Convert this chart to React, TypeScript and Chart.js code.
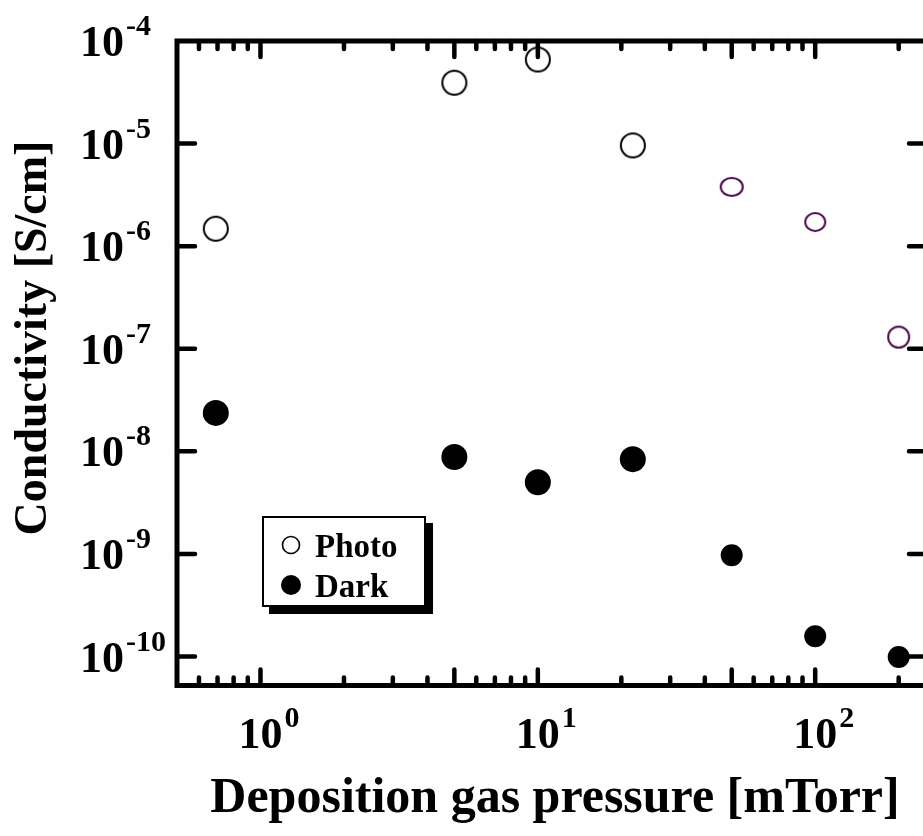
import React, { useEffect, useRef } from "react";
import { Chart, registerables } from "chart.js";

Chart.register(...registerables);

// ---- data ----
const pressure = [0.69, 5, 10, 22, 50, 100, 200];
const photo = [1.48e-6, 3.92e-5, 6.6e-5, 9.6e-6, 3.78e-6, 1.72e-6, 1.3e-7];
const dark = [2.37e-8, 8.8e-9, 5.0e-9, 8.4e-9, 9.7e-10, 1.58e-10, 9.9e-11];
const seriesNames = ["Photo", "Dark"];
const yExponents = [-4, -5, -6, -7, -8, -9, -10];
const xExponents = [0, 1, 2];
const xTitle = "Deposition gas pressure [mTorr]";
const yTitle = "Conductivity [S/cm]";

// ---- styles ----
const photoColors = ["#000000", "#000000", "#000000", "#000000", "#4b0b4b", "#4b0b4b", "#4b0b4b"];
const photoRx = [12, 12, 12, 12, 11, 10, 10.5];
const photoRy = [12, 12, 12, 12, 9, 9, 10.5];
const darkRadius = [13, 13, 13, 13, 11, 11, 11];
const FONT = '"Liberation Serif", "Times New Roman", serif';

function ellipseMarker(rx: number, ry: number, color: string) {
  const c = document.createElement("canvas");
  const w = Math.ceil(rx * 2 + 6);
  const h = Math.ceil(ry * 2 + 6);
  c.width = w;
  c.height = h;
  const g = c.getContext("2d")!;
  g.strokeStyle = color;
  g.lineWidth = 2;
  g.beginPath();
  g.ellipse(w / 2, h / 2, rx, ry, 0, 0, Math.PI * 2);
  g.stroke();
  return c;
}

const framePlugin = {
  id: "frame",
  beforeDatasetsDraw(chart: any) {
    const { ctx, chartArea: a, scales } = chart;
    const xs = scales.x;
    const ys = scales.y;
    ctx.save();
    ctx.strokeStyle = "#000";
    ctx.lineCap = "round";
    ctx.lineWidth = 4.5;
    // x ticks (bottom + top, inward)
    for (let d = -1; d <= 3; d++) {
      for (let m = 1; m <= 9; m++) {
        const v = m * Math.pow(10, d);
        if (v <= xs.min * 1.001 || v >= xs.max) continue;
        const px = xs.getPixelForValue(v);
        const len = m === 1 || m === 5 ? 16 : 8;
        ctx.beginPath();
        ctx.moveTo(px, a.bottom);
        ctx.lineTo(px, a.bottom - len);
        ctx.moveTo(px, a.top);
        ctx.lineTo(px, a.top + len);
        ctx.stroke();
      }
    }
    // y ticks (left + right, inward)
    for (const e of yExponents) {
      const py = ys.getPixelForValue(Math.pow(10, e));
      if (py <= a.top + 1) continue;
      ctx.beginPath();
      ctx.moveTo(a.left, py);
      ctx.lineTo(a.left + 18, py);
      ctx.moveTo(a.right, py);
      ctx.lineTo(a.right - 18, py);
      ctx.stroke();
    }
    ctx.lineCap = "square";
    ctx.lineWidth = 5;
    ctx.strokeRect(a.left, a.top, a.right - a.left, a.bottom - a.top);
    ctx.restore();
  },
  afterDraw(chart: any) {
    const { ctx, scales } = chart;
    const xs = scales.x;
    const ys = scales.y;
    ctx.save();
    ctx.fillStyle = "#000";
    ctx.textBaseline = "alphabetic";
    const big = `bold 44px ${FONT}`;
    const sup = `bold 30px ${FONT}`;
    // y tick labels
    for (const e of yExponents) {
      const py = ys.getPixelForValue(Math.pow(10, e));
      ctx.font = big;
      ctx.textAlign = "left";
      ctx.fillText("10", 80, py + 15);
      const w = ctx.measureText("10").width;
      ctx.font = sup;
      ctx.fillText(String(e), 80 + w + 2, py - 6);
    }
    // x tick labels
    for (const e of xExponents) {
      const px = xs.getPixelForValue(Math.pow(10, e));
      ctx.font = big;
      ctx.textAlign = "center";
      ctx.fillText("10", px, 748);
      const w = ctx.measureText("10").width;
      ctx.font = sup;
      ctx.textAlign = "left";
      ctx.fillText(String(e), px + w / 2 + 2, 727);
    }
    // axis titles
    ctx.font = `bold 50px ${FONT}`;
    ctx.textAlign = "center";
    ctx.fillText(xTitle, 555, 812);
    ctx.save();
    ctx.translate(46, 338);
    ctx.rotate(-Math.PI / 2);
    ctx.font = `bold 46px ${FONT}`;
    ctx.fillText(yTitle, 0, 0);
    ctx.restore();

    // legend
    const bx = 263, by = 517, bw = 162, bh = 89;
    ctx.fillStyle = "#000";
    ctx.fillRect(bx + 6, by + 6, bw + 2, bh + 2);
    ctx.fillStyle = "#fff";
    ctx.fillRect(bx, by, bw, bh);
    ctx.strokeStyle = "#000";
    ctx.lineWidth = 2;
    ctx.strokeRect(bx, by, bw, bh);
    ctx.lineWidth = 1.6;
    ctx.beginPath();
    ctx.arc(291, 545, 8.5, 0, Math.PI * 2);
    ctx.stroke();
    ctx.fillStyle = "#000";
    ctx.beginPath();
    ctx.arc(291, 585, 10, 0, Math.PI * 2);
    ctx.fill();
    ctx.font = `bold 33px ${FONT}`;
    ctx.textAlign = "left";
    ctx.fillText(seriesNames[0], 315, 557);
    ctx.fillText(seriesNames[1], 315, 597);
    ctx.restore();
  },
};

export default function App() {
  const ref = useRef<HTMLCanvasElement | null>(null);
  useEffect(() => {
    document.body.style.margin = "0";
    const canvas = ref.current!;
    const photoStyles = photoColors.map((c, i) => ellipseMarker(photoRx[i], photoRy[i], c));
    const chart = new Chart(canvas, {
      type: "scatter",
      data: {
        datasets: [
          {
            label: seriesNames[0],
            data: pressure.map((x, i) => ({ x, y: photo[i] })),
            pointStyle: photoStyles as any,
            pointRadius: 12,
            backgroundColor: "rgba(0,0,0,0)",
            borderColor: "#000",
            clip: false as any,
          },
          {
            label: seriesNames[1],
            data: pressure.map((x, i) => ({ x, y: dark[i] })),
            pointStyle: "circle",
            pointRadius: darkRadius,
            pointBackgroundColor: "#000",
            pointBorderColor: "#000",
            pointBorderWidth: 0,
            clip: false as any,
          },
        ],
      },
      options: {
        responsive: false,
        animation: false,
        devicePixelRatio: 1,
        events: [],
        layout: { padding: { left: 177, top: 41, right: 11, bottom: 150.5 } },
        plugins: { legend: { display: false }, tooltip: { enabled: false }, title: { display: false } },
        scales: {
          x: { type: "logarithmic", min: 0.5, max: 253, display: false },
          y: { type: "logarithmic", min: 5.22e-11, max: 1e-4, display: false },
        },
      },
      plugins: [framePlugin],
    });
    return () => chart.destroy();
  }, []);
  return (
    <div style={{ position: "fixed", left: 0, top: 0, width: 923, height: 836, overflow: "hidden", background: "#fff" }}>
      <canvas ref={ref} width={940} height={836} style={{ width: 940, height: 836, display: "block" }} />
    </div>
  );
}
